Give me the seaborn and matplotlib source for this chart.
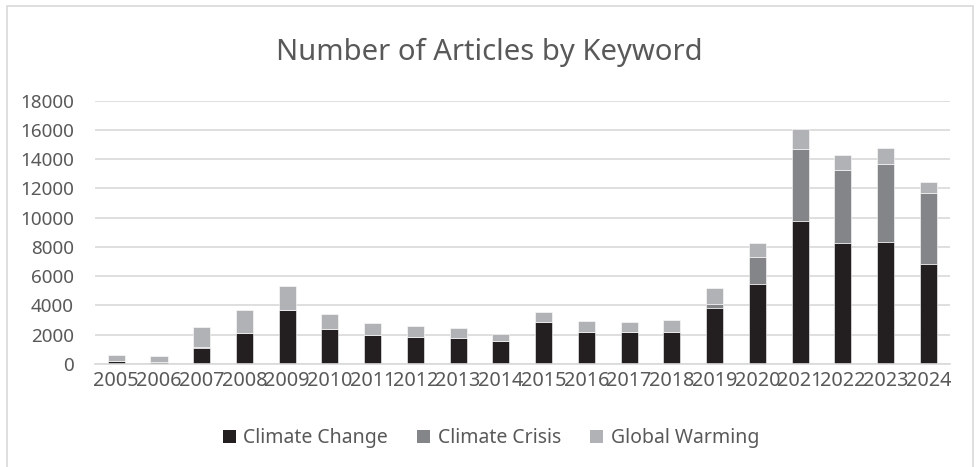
import matplotlib
matplotlib.use("Agg")
import matplotlib.pyplot as plt
import seaborn as sns
import pandas as pd
from matplotlib.patches import Rectangle, Patch

years = [str(y) for y in range(2005, 2025)]
climate_change = [230, 160, 1120, 2140, 3660, 2370, 2000, 1840, 1780, 1600,
                  2890, 2210, 2210, 2210, 3800, 5440, 9760, 8260, 8310, 6810]
climate_crisis = [0, 0, 30, 0, 0, 0, 0, 0, 0, 0,
                  0, 0, 0, 0, 320, 1890, 4960, 5030, 5370, 4850]
global_warming = [370, 390, 1360, 1550, 1670, 1040, 820, 780, 700, 480,
                  680, 700, 660, 820, 1070, 960, 1340, 980, 1070, 800]

series_names = ["Climate Change", "Climate Crisis", "Global Warming"]
colors = ["#231f20", "#848588", "#b1b2b5"]

sns.set_theme(style="white")
plt.rcParams['font.family'] = ['Noto Sans', 'DejaVu Sans']

df = pd.DataFrame({"year": years, "cc": climate_change,
                   "cr": climate_crisis, "gw": global_warming})
df["b2"] = df["cc"] + df["cr"]

fig = plt.figure(figsize=(9.78, 4.67), dpi=100)
ax = fig.add_axes([0.097, 0.2206, 0.874, 0.5638])

sns.barplot(data=df, x="year", y="cc", color=colors[0], width=0.4,
            ax=ax, saturation=1, edgecolor="white", linewidth=0.4)
sns.barplot(data=df, x="year", y="cr", bottom=df["cc"], color=colors[1],
            width=0.4, ax=ax, saturation=1, edgecolor="white", linewidth=0.4)
sns.barplot(data=df, x="year", y="gw", bottom=df["b2"], color=colors[2],
            width=0.4, ax=ax, saturation=1, edgecolor="white", linewidth=0.4)

ax.set_ylim(0, 18000)
ax.set_xlim(-0.5, len(years) - 0.5)
ax.set_yticks(range(0, 18001, 2000))
ax.set_yticklabels([str(v) for v in range(0, 18001, 2000)])
ax.yaxis.grid(True, color="#d9d9d9", linewidth=1.2)
ax.set_axisbelow(True)
for s in ax.spines.values():
    s.set_visible(False)
ax.spines["bottom"].set_visible(True)
ax.spines["bottom"].set_color("#d9d9d9")
ax.spines["bottom"].set_linewidth(1.2)
ax.set_xlabel("")
ax.set_ylabel("")
ax.tick_params(axis="both", length=0, colors="#595959")
ax.tick_params(axis="x", labelsize=14.3, pad=5)
ax.tick_params(axis="y", labelsize=13.6, pad=15)

fig.text(0.5, 0.888, "Number of Articles by Keyword", ha="center", va="center",
         fontsize=21, color="#595959")

handles = [Patch(facecolor=c, edgecolor="none") for c in colors]
fig.legend(handles, series_names, loc="center", bbox_to_anchor=(0.502, 0.062),
           ncol=3, frameon=False, fontsize=14, handlelength=0.65,
           handleheight=0.65, handletextpad=0.4, columnspacing=1.5,
           labelcolor="#595959")

fig.patches.append(Rectangle((7 / 978, -0.01), 966 / 978, 1 - 6 / 467 + 0.01,
                             transform=fig.transFigure, fill=False,
                             edgecolor="#d9d9d9", linewidth=1.2))

fig.savefig("out.png", dpi=100)
